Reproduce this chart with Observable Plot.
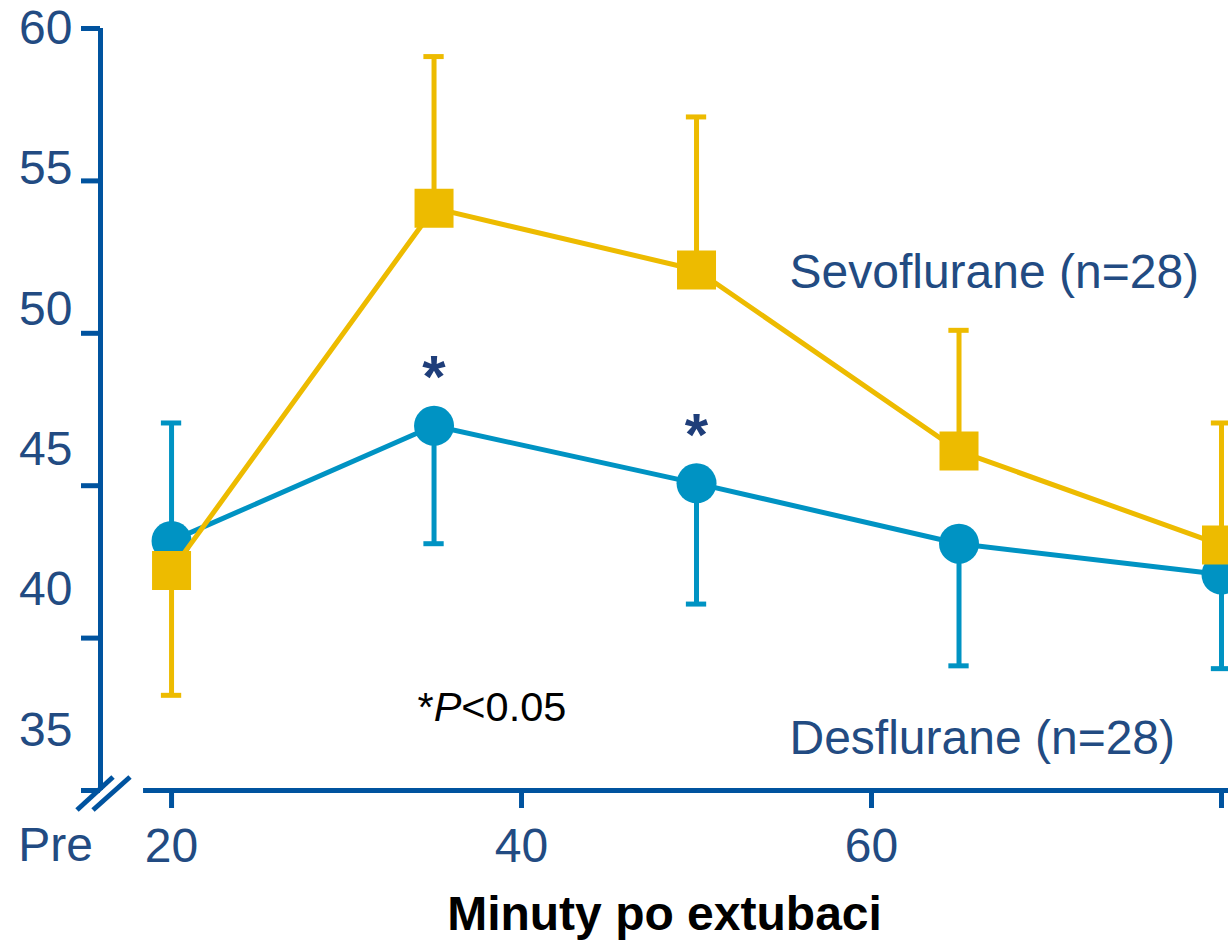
<!DOCTYPE html>
<html>
<head>
<meta charset="utf-8">
<script src="https://cdn.jsdelivr.net/npm/d3@7"></script>
<script src="https://cdn.jsdelivr.net/npm/@observablehq/plot@0.6"></script>
<style>
  html, body { margin: 0; padding: 0; background: #fff; }
  #chart { width: 1228px; height: 945px; }
</style>
</head>
<body>
<div id="chart"></div>
<script>
// ---- data ----
const minutes = [20, 35, 50, 65, 80];
const sevoMean = [40.7, 53.6, 51.4, 44.95, 41.6];
const sevoWhisker = [36.25, 59.0, 56.85, 49.25, 45.95];
const desMean = [41.75, 45.85, 43.8, 41.65, 40.55];
const desWhisker = [45.95, 41.65, 39.5, 37.3, 37.2];
const desSignificant = [false, true, true, false, false];

const xTicks = [20, 40, 60, 80];
const xTickLabels = [20, 40, 60];
const yTickLabels = [35, 40, 45, 50, 55, 60];
const seriesNames = ["Sevoflurane (n=28)", "Desflurane (n=28)"];
const noteText = "*P<0.05";
const xTitle = "Minuty po extubaci";
const preLabel = "Pre";

// ---- styles / layout ----
const axisBlue = "#00539F";
const navy = "#224B82";
const yellow = "#EDBB00";
const blue = "#0093C3";
const starColor = "#1F3E7A";

const yFloor = 32.86;          // bottom of the (broken) axis
const yTop = 60;
const xLo = 15.94, xHi = 80.4, xAxisStart = 18.4;
const capHalf = 0.58;
// tick marks on y axis: evenly spaced along the axis
const yTickMarks = d3.range(6).map(i => yTop - i * (yTop - yFloor) / 5);

const rows = minutes.map((m, i) => ({
  m, sevo: sevoMean[i], sevoW: sevoWhisker[i],
  des: desMean[i], desW: desWhisker[i], sig: desSignificant[i]
}));

const plot = Plot.plot({
  width: 1228,
  height: 945,
  marginLeft: 100,
  marginRight: 0,
  marginTop: 28,
  marginBottom: 155,
  style: { fontFamily: "'Liberation Sans', Arial, sans-serif", background: "#fff" },
  x: { domain: [xLo, xHi] },
  y: { domain: [yFloor, yTop] },
  marks: [
    // y axis line, ticks, labels
    Plot.ruleX([xLo], { y1: yFloor, y2: yTop, stroke: axisBlue, strokeWidth: 5 }),
    Plot.axisY(yTickMarks, { anchor: "left", tickSize: 19, tickFormat: () => "", color: axisBlue, strokeWidth: 5, label: null }),
    Plot.axisY(yTickLabels, { anchor: "left", tickSize: 0, tickPadding: 28, fontSize: 48, color: navy, label: null }),
    // x axis line, ticks, labels
    Plot.ruleY([yFloor], { x1: xAxisStart, x2: xHi, stroke: axisBlue, strokeWidth: 5 }),
    Plot.axisX(xTicks, { anchor: "bottom", tickSize: 18, tickFormat: () => "", color: axisBlue, strokeWidth: 5, label: null }),
    Plot.axisX(xTickLabels, { anchor: "bottom", tickSize: 0, tickPadding: 37, fontSize: 48, color: navy, label: null }),
    Plot.text([preLabel], { frameAnchor: "bottom-left", dx: -45, dy: 55, fontSize: 48, fill: navy, textAnchor: "middle", lineAnchor: "middle" }),
    Plot.text([xTitle], { frameAnchor: "bottom", dy: 124, fontSize: 48, fontWeight: "bold", fill: "#000", textAnchor: "middle", lineAnchor: "middle" }),

    // Desflurane
    Plot.ruleX(rows, { x: "m", y1: "des", y2: "desW", stroke: blue, strokeWidth: 5 }),
    Plot.ruleY(rows, { y: "desW", x1: d => d.m - capHalf, x2: d => d.m + capHalf, stroke: blue, strokeWidth: 5 }),
    Plot.line(rows, { x: "m", y: "des", stroke: blue, strokeWidth: 5 }),
    Plot.dot(rows, { x: "m", y: "des", r: 20, fill: blue, stroke: null }),

    // Sevoflurane
    Plot.ruleX(rows, { x: "m", y1: "sevo", y2: "sevoW", stroke: yellow, strokeWidth: 5 }),
    Plot.ruleY(rows, { y: "sevoW", x1: d => d.m - capHalf, x2: d => d.m + capHalf, stroke: yellow, strokeWidth: 5 }),
    Plot.line(rows, { x: "m", y: "sevo", stroke: yellow, strokeWidth: 5 }),
    Plot.dot(rows, { x: "m", y: "sevo", r: 22, symbol: "square", fill: yellow, stroke: null }),

    // significance asterisks
    Plot.text(rows.filter(d => d.sig), { x: "m", y: "des", text: () => "*", dy: -48, fontSize: 60, fontWeight: "bold", fill: starColor, textAnchor: "middle", lineAnchor: "middle" }),

    // series labels and note
    Plot.text([seriesNames[0]], { frameAnchor: "top-left", dx: 689, dy: 244, fontSize: 48, fill: navy, textAnchor: "start", lineAnchor: "middle" }),
    Plot.text([seriesNames[1]], { frameAnchor: "top-left", dx: 689, dy: 710, fontSize: 48, fill: navy, textAnchor: "start", lineAnchor: "middle" }),
    Plot.text([noteText], { frameAnchor: "top-left", dx: 317, dy: 679, fontSize: 41.5, fill: "#000", textAnchor: "start", lineAnchor: "middle" })
  ]
});

document.getElementById("chart").appendChild(plot);

// italic P in the note
d3.select(plot).selectAll("text").each(function () {
  if (this.textContent === noteText) {
    const t = d3.select(this);
    t.text(null);
    t.append("tspan").text("*");
    t.append("tspan").attr("font-style", "italic").text("P");
    t.append("tspan").text("<0.05");
  }
});

// axis-break slashes
const sx = plot.scale("x"), sy = plot.scale("y");
const bx = sx.apply(xLo), by = sy.apply(yFloor);
const svg = d3.select(plot);
[[-23, 20, 13, -13], [-7, 20, 30, -13]].forEach(([x1, y1, x2, y2]) => {
  svg.append("line")
    .attr("x1", bx + x1).attr("y1", by + y1)
    .attr("x2", bx + x2).attr("y2", by + y2)
    .attr("stroke", axisBlue).attr("stroke-width", 5);
});
</script>
</body>
</html>
